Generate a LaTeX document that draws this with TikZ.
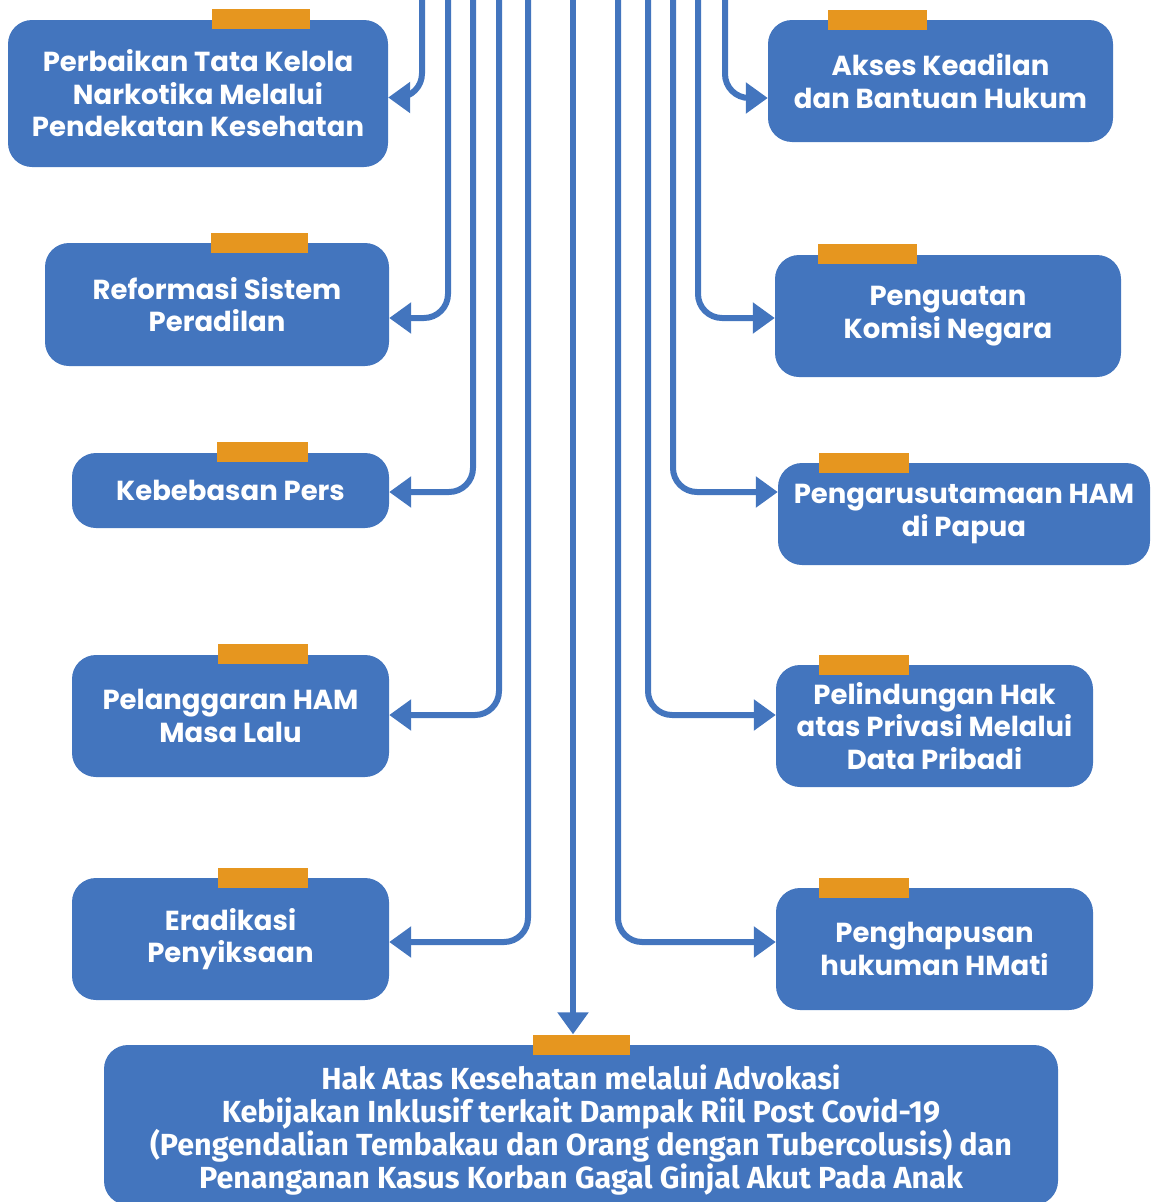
\documentclass[tikz,border=0pt]{standalone}
\usepackage{fontspec}
\setmainfont{Poppins}
\newfontfamily\noteface{Fira Sans}
\usetikzlibrary{arrows.meta}
\definecolor{boxblue}{HTML}{4375BE}
\definecolor{tabgold}{HTML}{E6961F}
\tikzset{
  topic/.style={fill=boxblue, rounded corners=24pt, text=white, align=center,
    font=\bfseries\fontsize{27.5}{32.5}\selectfont, inner sep=0pt},
  tabbar/.style={fill=tabgold, inner sep=0pt, minimum height=20pt},
  link/.style={draw=boxblue, line width=6pt, rounded corners=24pt,
    -{Triangle[width=30pt,length=22pt]}},
}
\begin{document}
\begin{tikzpicture}[x=1pt,y=-1pt]
\useasboundingbox (0,0) rectangle (1152,1202);

% left column
\node[topic, minimum width=380pt, minimum height=147pt] (perbaikan) at (198,93.5)
  {Perbaikan Tata Kelola\\Narkotika Melalui\\Pendekatan Kesehatan};
\node[topic, minimum width=344pt, minimum height=123pt] (reformasi) at (217,304.5)
  {Reformasi Sistem\\Peradilan};
\node[topic, minimum width=317pt, minimum height=75pt] (pers) at (230.5,490.5)
  {Kebebasan Pers};
\node[topic, minimum width=317pt, minimum height=122pt] (pelanggaran) at (230.5,716)
  {Pelanggaran HAM\\Masa Lalu};
\node[topic, minimum width=317pt, minimum height=122pt] (eradikasi) at (230.5,939)
  {Eradikasi\\Penyiksaan};

% right column
\node[topic, minimum width=345pt, minimum height=122pt] (akses) at (940.5,81)
  {Akses Keadilan\\dan Bantuan Hukum};
\node[topic, minimum width=346pt, minimum height=122pt] (komisi) at (948,316)
  {Penguatan\\Komisi Negara};
\node[topic, minimum width=372pt, minimum height=102pt] (papua) at (964,514)
  {Pengarusutamaan HAM\\di Papua};
\node[topic, minimum width=317pt, minimum height=122pt] (privasi) at (934.5,726)
  {Pelindungan Hak\\atas Privasi Melalui\\Data Pribadi};
\node[topic, minimum width=317pt, minimum height=122pt] (hmati) at (934.5,949)
  {Penghapusan\\hukuman HMati};

% bottom box and its four-line caption
\node[topic, minimum width=954pt, minimum height=160pt] (sehat) at (581,1125) {};
\node[text=white, align=center, inner sep=0pt,
  font=\noteface\bfseries\fontsize{30.5}{32.8}\selectfont] (sehattext) at (581,1130)
  {Hak Atas Kesehatan melalui Advokasi\\
   Kebijakan Inklusif terkait Dampak Riil Post Covid-19\\
   (Pengendalian Tembakau dan Orang dengan Tubercolusis) dan\\
   Penanganan Kasus Korban Gagal Ginjal Akut Pada Anak};

% orange tabs on the top edges
\node[tabbar, minimum width=98pt] (tperbaikan) at (261,19) {};
\node[tabbar, minimum width=97pt] (treformasi) at (259.5,243) {};
\node[tabbar, minimum width=91pt] (tpers) at (262.5,452) {};
\node[tabbar, minimum width=90pt] (tpelanggaran) at (263,654) {};
\node[tabbar, minimum width=90pt] (teradikasi) at (263,877.5) {};
\node[tabbar, minimum width=99pt] (takses) at (877.5,19.5) {};
\node[tabbar, minimum width=99pt] (tkomisi) at (867.5,254) {};
\node[tabbar, minimum width=90pt] (tpapua) at (864,462.5) {};
\node[tabbar, minimum width=90pt] (tprivasi) at (864,664.5) {};
\node[tabbar, minimum width=90pt] (thmati) at (864,888) {};
\node[tabbar, minimum width=97pt] (tsehat) at (581.5,1044.5) {};

% feeder line heads above the picture
\coordinate (f1) at (422,-10);
\coordinate (f2) at (448,-10);
\coordinate (f3) at (473,-10);
\coordinate (f4) at (499,-10);
\coordinate (f5) at (528,-10);
\coordinate (f6) at (573,-10);
\coordinate (f7) at (618,-10);
\coordinate (f8) at (648,-10);
\coordinate (f9) at (673,-10);
\coordinate (f10) at (698,-10);
\coordinate (f11) at (725,-10);

% connectors
\draw[link] (f1) |- ([yshift=-4pt]perbaikan.east);
\draw[link] (f2) |- ([yshift=-13.5pt]reformasi.east);
\draw[link] (f3) |- ([yshift=-1.5pt]pers.east);
\draw[link] (f4) |- ([yshift=1pt]pelanggaran.east);
\draw[link] (f5) |- ([yshift=-3pt]eradikasi.east);
\draw[link] (f11) |- ([yshift=-17pt]akses.west);
\draw[link] (f10) |- ([yshift=-2pt]komisi.west);
\draw[link] (f9) |- ([yshift=22pt]papua.west);
\draw[link] (f8) |- ([yshift=11pt]privasi.west);
\draw[link] (f7) |- ([yshift=7pt]hmati.west);
\draw[link] (f6) -- (f6 |- tsehat.north);
\end{tikzpicture}
\end{document}
